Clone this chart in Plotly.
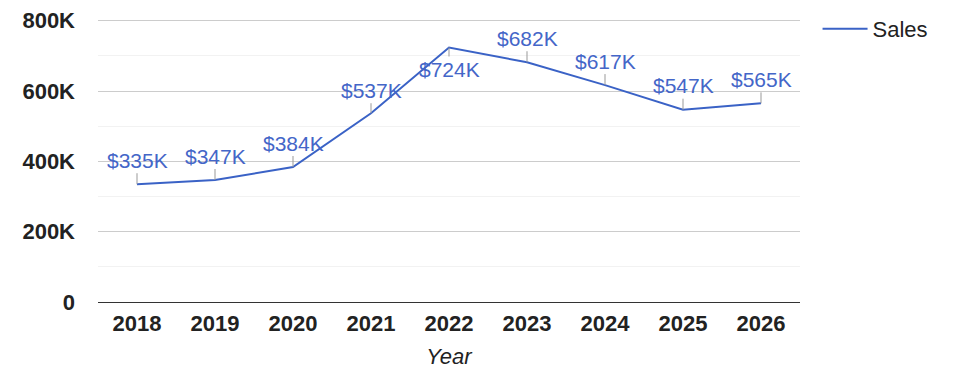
import plotly.graph_objects as go

years = ["2018", "2019", "2020", "2021", "2022", "2023", "2024", "2025", "2026"]
sales = [335000, 347000, 384000, 537000, 724000, 682000, 617000, 547000, 565000]
labels = ["&#36;335K", "&#36;347K", "&#36;384K", "&#36;537K", "&#36;724K",
          "&#36;682K", "&#36;617K", "&#36;547K", "&#36;565K"]
label_offsets = [-24, -24, -24, -23, 22, -24, -24, -24, -24]
y_ticks = [0, 200000, 400000, 600000, 800000]
y_tick_text = ["0", "200K", "400K", "600K", "800K"]

x_pos = list(range(len(years)))

FONT = "Arial, 'Liberation Sans', sans-serif"
LINE_COLOR = "#3a62c6"

fig = go.Figure()
fig.add_trace(go.Scatter(
    x=x_pos, y=sales, mode="lines", name="Sales",
    line=dict(color=LINE_COLOR, width=2),
))

for xp, val, lab, off in zip(x_pos, sales, labels, label_offsets):
    fig.add_annotation(
        x=xp, y=val, xref="x", yref="y", text=lab,
        showarrow=True, arrowhead=0, arrowwidth=1, arrowcolor="#999999",
        ax=0, ay=off,
        font=dict(family=FONT, size=21, color="#4466c8"),
    )

fig.update_layout(
    width=967, height=370,
    margin=dict(l=90, r=175, t=11, b=76, autoexpand=False),
    paper_bgcolor="white", plot_bgcolor="white",
    font=dict(family=FONT, color="#222222"),
    legend=dict(
        x=1.025, y=0.965, xanchor="left", yanchor="middle",
        itemwidth=45,
        font=dict(family=FONT, size=22, color="#222222"),
        bgcolor="rgba(0,0,0,0)",
    ),
    showlegend=True,
)

fig.update_xaxes(
    range=[-0.5, 8.5], tickvals=x_pos, ticktext=years,
    showgrid=False, zeroline=False, ticks="", showline=True, linecolor="#333333", linewidth=1,
    tickfont=dict(family=FONT, size=22, color="#222222", weight="bold"),
    ticklabelstandoff=2, automargin=False,
    title=dict(text="Year", font=dict(family=FONT, size=22, color="#222222", style="italic"), standoff=13),
)
fig.update_yaxes(
    range=[0, 805000], tickvals=y_ticks, ticktext=y_tick_text,
    showgrid=True, gridcolor="#cccccc", gridwidth=1,
    zeroline=False, ticks="", automargin=False, ticklabeloverflow="allow",
    minor=dict(dtick=100000, showgrid=True, gridcolor="#f2f2f2", gridwidth=1),
    tickfont=dict(family=FONT, size=22, color="#222222", weight="bold"),
    ticklabelstandoff=22,
)

fig.write_html("out.html")
